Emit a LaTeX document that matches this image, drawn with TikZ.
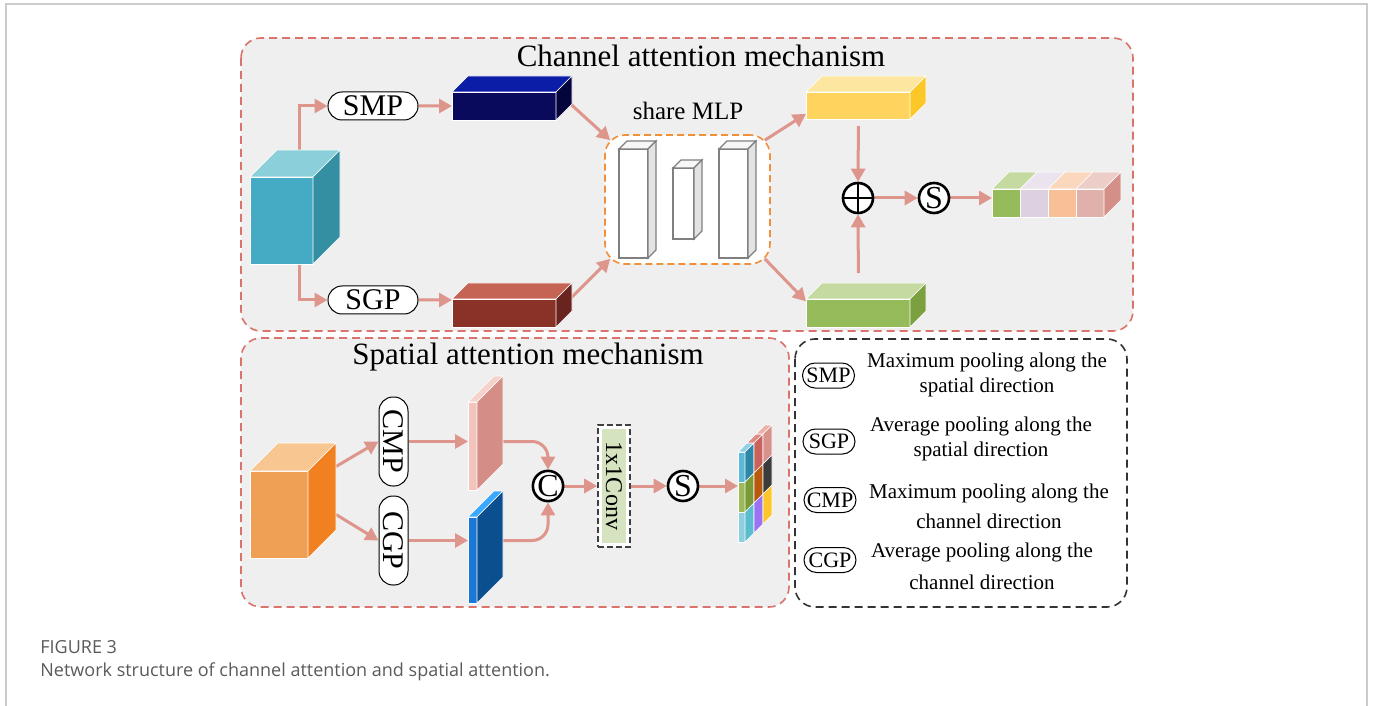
\documentclass[tikz,border=0pt]{standalone}
\usepackage{fontspec}
\setmainfont{Liberation Serif}
\newfontfamily\capfont{Open Sans}
\usetikzlibrary{arrows.meta,shapes.misc,positioning}

\definecolor{arrowred}{HTML}{DE958B}
\definecolor{panelred}{HTML}{D9736B}
\definecolor{panelgray}{HTML}{EFEFEF}
\definecolor{mlporange}{HTML}{F0903A}
\definecolor{framegray}{HTML}{CCCCCC}
\definecolor{capgray}{HTML}{5A5A5A}
\definecolor{convgreen}{HTML}{D5E3C0}
% box faces: front, top, side
\definecolor{cinF}{HTML}{45ABC4}\definecolor{cinT}{HTML}{8BCFDB}\definecolor{cinS}{HTML}{358FA3}
\definecolor{navyF}{HTML}{0A0A5C}\definecolor{navyT}{HTML}{0B1DA6}\definecolor{navyS}{HTML}{05053E}
\definecolor{brickF}{HTML}{8B3228}\definecolor{brickT}{HTML}{C56355}\definecolor{brickS}{HTML}{6A2420}
\definecolor{layerT}{HTML}{F7F7F7}\definecolor{layerS}{HTML}{E3E3E3}
\definecolor{yelF}{HTML}{FFD45E}\definecolor{yelT}{HTML}{FDE6A0}\definecolor{yelS}{HTML}{FCC828}
\definecolor{grnF}{HTML}{96BB5A}\definecolor{grnT}{HTML}{C4DAA0}\definecolor{grnS}{HTML}{7AA040}
\definecolor{lilF}{HTML}{DDD0E0}\definecolor{lilT}{HTML}{EBE3EE}
\definecolor{pchF}{HTML}{F8C096}\definecolor{pchT}{HTML}{FBD8BD}
\definecolor{rosF}{HTML}{E0B0AA}\definecolor{rosT}{HTML}{ECCDC8}\definecolor{rosS}{HTML}{D49088}
\definecolor{sinF}{HTML}{F0A055}\definecolor{sinT}{HTML}{F8C690}\definecolor{sinS}{HTML}{F08020}
\definecolor{pinkF}{HTML}{F3C4BC}\definecolor{pinkT}{HTML}{F6D2CC}\definecolor{pinkS}{HTML}{D58D87}
\definecolor{blueF}{HTML}{1A78D8}\definecolor{blueT}{HTML}{3AA8FF}\definecolor{blueS}{HTML}{0B4F8F}
% spatial map cells
\definecolor{mapA}{HTML}{5BB8D6}\definecolor{mapB}{HTML}{9CBB58}\definecolor{mapC}{HTML}{8CCFDF}
\definecolor{mapD}{HTML}{8FD0E6}\definecolor{mapE}{HTML}{E08A84}\definecolor{mapF}{HTML}{EFB0AA}
\definecolor{map00}{HTML}{2E87A6}\definecolor{map01}{HTML}{7A9A38}\definecolor{map02}{HTML}{5BBCCF}
\definecolor{map10}{HTML}{C9625B}\definecolor{map11}{HTML}{B9590E}\definecolor{map12}{HTML}{9B72F2}
\definecolor{map20}{HTML}{D8918B}\definecolor{map21}{HTML}{3C3C3C}\definecolor{map22}{HTML}{FDC62A}

\pgfdeclarelayer{bg}
\pgfdeclarelayer{back}
\pgfsetlayers{bg,back,main}

\tikzstyle{arrow} = [draw=arrowred, line width=1.5pt, -{Triangle[length=6.5pt,width=7pt]}]
\tikzstyle{panel} = [draw=panelred, fill=panelgray, dash pattern=on 4pt off 2.5pt,
    line width=0.8pt, rounded corners=10pt]
\tikzstyle{keybox} = [draw=black!80, fill=white, dash pattern=on 4pt off 2.5pt,
    line width=0.8pt, rounded corners=10pt]
\tikzstyle{mlpbox} = [
    rectangle, rounded corners=10pt, draw=mlporange, fill=white,
    dash pattern=on 3.5pt off 2pt, line width=0.8pt,
    minimum width=82.5pt, minimum height=64.5pt
]
\tikzstyle{pool} = [
    rounded rectangle, draw=black, line width=0.5pt, fill=white,
    inner sep=0pt, minimum width=45pt, minimum height=14pt,
    font=\fontsize{15}{15}\selectfont
]
\tikzstyle{vpool} = [
    rectangle, rounded corners=7pt, draw=black, line width=0.5pt, fill=white,
    inner sep=0pt, minimum width=14.5pt, minimum height=44.5pt,
    font=\fontsize{15}{15}\selectfont
]
\tikzstyle{keypool} = [
    rounded rectangle, draw=black, line width=0.5pt, fill=white,
    inner sep=0pt, minimum width=26pt, minimum height=12.5pt,
    font=\fontsize{11}{11}\selectfont
]
\tikzstyle{keytext} = [align=center, inner sep=0pt, font=\fontsize{10.5}{12.5}\selectfont]
\tikzstyle{op} = [
    circle, draw=black, line width=1.3pt, fill=white,
    minimum size=15pt, inner sep=0pt, font=\fontsize{16}{16}\selectfont
]
\tikzstyle{oplus} = [op, path picture={
    \draw[line width=1.1pt] (path picture bounding box.north) -- (path picture bounding box.south)
        (path picture bounding box.west) -- (path picture bounding box.east);}]
\tikzstyle{conv} = [
    rectangle, draw=black!75, fill=white, dash pattern=on 3pt off 1.5pt, line width=0.8pt,
    minimum width=16pt, minimum height=61pt, inner sep=0pt,
    font=\fontsize{12}{12}\selectfont,
    path picture={\fill[convgreen] ([shift={(1.8pt,-1.8pt)}]path picture bounding box.north west)
        rectangle ([shift={(-1.8pt,1.8pt)}]path picture bounding box.south east);}
]
\tikzstyle{title} = [inner sep=0pt, font=\fontsize{15.5}{15.5}\selectfont]
\tikzstyle{caption} = [anchor=base west, inner sep=0pt, text=capgray, font=\capfont\fontsize{9}{10}\selectfont]
\tikzstyle{face} = [draw=white, line width=0.3pt]

% box with front face at (x,y), size w x h, depth d: name, x, y, w, h, d, front, top, side
\newcommand{\cuboid}[9]{%
  \path[face, fill=#7] (#2,#3) rectangle ++(#4,#5);
  \path[face, fill=#8] (#2,#3) -- ++(#6,-#6) -- ++(#4,0) -- ++(-#6,#6) -- cycle;
  \path[face, fill=#9] (#2+#4,#3) -- ++(#6,-#6) -- ++(0,#5) -- ++(-#6,#6) -- cycle;
  \node[inner sep=0pt, minimum width=#4*0.5pt, minimum height=#5*0.5pt, anchor=north west] (#1) at (#2,#3) {};
  \coordinate (#1-back) at (#2+#4/2+#6,#3-#6);
  \coordinate (#1-side) at (#2+#4+#6/2,#3+#5/2-#6/2);
  \coordinate (#1-east) at (#2+#4+#6,#3+#5/2-#6);
}
% one cell on the side of the attention map
\newcommand{\sidecell}[3]{%
  \path[face, fill=#3] (745+9*#1,452+30*#2-9*#1) -- ++(9,-9) -- ++(0,30) -- ++(-9,9) -- cycle;
}

\begin{document}
\begin{tikzpicture}[x=0.5pt,y=-0.5pt]
    \useasboundingbox (0,0) rectangle (1373,706);
    \draw[framegray, line width=0.8pt] (6,706) -- (6,4) -- (1367,4) -- (1367,706);

    \begin{pgfonlayer}{bg}
        \draw[panel] (241,38) rectangle (1133,331);
        \draw[panel] (241,338) rectangle (789,607);
        \draw[keybox] (795,339) rectangle (1127,607);
    \end{pgfonlayer}

    % channel attention
    \node[title] (ctitle) at (701,56) {Channel attention mechanism};
    \cuboid{cin}{250}{177}{63}{87}{27}{cinF}{cinT}{cinS}
    \node[pool] (smp) at (373,106) {SMP};
    \node[pool] (sgp) at (373,300) {SGP};
    \cuboid{smpbar}{452}{92}{104}{28}{16}{navyF}{navyT}{navyS}
    \cuboid{sgpbar}{452}{299}{104}{28}{16}{brickF}{brickT}{brickS}

    \node[mlpbox] (mlp) at (687.5,199.5) {};
    \node[anchor=base, inner sep=0pt, font=\fontsize{12.5}{12.5}\selectfont] (mlplabel) at (688,120) {share MLP};
    \begin{scope}[face/.style={draw=black!50, line width=0.6pt}]
        \cuboid{mlp1}{619}{149}{29}{109}{8}{white}{layerT}{layerS}
        \cuboid{mlp2}{673}{168}{21}{71}{8}{white}{layerT}{layerS}
        \cuboid{mlp3}{719}{149}{29}{109}{8}{white}{layerT}{layerS}
    \end{scope}

    \cuboid{ybar}{806}{92}{104}{27}{16}{yelF}{yelT}{yelS}
    \cuboid{gbar}{806}{299}{104}{28}{16}{grnF}{grnT}{grnS}
    \node[oplus] (plus) at (858,198) {};
    \node[op] (sg1) at (934,198) {S};

    % channel weights
    \path[face, fill=grnF] (992,189) rectangle ++(28,28);
    \path[face, fill=lilF] (1020,189) rectangle ++(28,28);
    \path[face, fill=pchF] (1048,189) rectangle ++(28,28);
    \path[face, fill=rosF] (1076,189) rectangle ++(28,28);
    \path[face, fill=grnT] (992,189) -- ++(17,-17) -- ++(28,0) -- ++(-17,17) -- cycle;
    \path[face, fill=lilT] (1020,189) -- ++(17,-17) -- ++(28,0) -- ++(-17,17) -- cycle;
    \path[face, fill=pchT] (1048,189) -- ++(17,-17) -- ++(28,0) -- ++(-17,17) -- cycle;
    \path[face, fill=rosT] (1076,189) -- ++(17,-17) -- ++(28,0) -- ++(-17,17) -- cycle;
    \path[face, fill=rosS] (1104,189) -- ++(17,-17) -- ++(0,28) -- ++(-17,17) -- cycle;
    \node[inner sep=0pt, minimum width=56pt, minimum height=14pt, anchor=north west] (cout) at (992,189) {};

    % spatial attention
    \node[title] (stitle) at (528,357) {Spatial attention mechanism};
    \cuboid{sin}{250}{471}{58}{87}{28}{sinF}{sinT}{sinS}
    \node[vpool] (cmp) at (393.5,441.5) {\rotatebox{-90}{CMP}};
    \node[vpool] (cgp) at (393.5,540.5) {\rotatebox{-90}{CGP}};
    \cuboid{pplane}{468}{402}{9}{88}{26}{pinkF}{pinkT}{pinkS}
    \cuboid{bplane}{468}{517}{9}{86}{26}{blueF}{blueT}{blueS}
    \node[op] (cc) at (548,486) {C};
    \node[conv] (conv) at (614,486) {\rotatebox{-90}{1x1Conv}};
    \node[op] (sg2) at (683,486) {S};

    % spatial map
    \path[face, fill=mapA] (738,452) rectangle ++(7,30);
    \path[face, fill=mapB] (738,482) rectangle ++(7,30);
    \path[face, fill=mapC] (738,512) rectangle ++(7,30);
    \path[face, fill=mapD] (738,452) -- ++(9,-9) -- ++(7,0) -- ++(-9,9) -- cycle;
    \path[face, fill=mapE] (747,443) -- ++(9,-9) -- ++(7,0) -- ++(-9,9) -- cycle;
    \path[face, fill=mapF] (756,434) -- ++(9,-9) -- ++(7,0) -- ++(-9,9) -- cycle;
    \sidecell{0}{0}{map00}
    \sidecell{0}{1}{map01}
    \sidecell{0}{2}{map02}
    \sidecell{1}{0}{map10}
    \sidecell{1}{1}{map11}
    \sidecell{1}{2}{map12}
    \sidecell{2}{0}{map20}
    \sidecell{2}{1}{map21}
    \sidecell{2}{2}{map22}
    \node[inner sep=0pt, minimum width=3.5pt, minimum height=45pt, anchor=north west] (sout) at (738,452) {};

    % legend
    \node[keypool] (ksmp) at (828.5,375.5) {SMP};
    \node[keypool] (ksgp) at (829,441.5) {SGP};
    \node[keypool] (kcmp) at (830,500) {CMP};
    \node[keypool] (kcgp) at (830,560) {CGP};
    \node[keytext] (tsmp) at (987,375) {Maximum pooling along the\\spatial direction};
    \node[keytext] (tsgp) at (981,439) {Average pooling along the\\spatial direction};
    \node[keytext] (tcmp) at (989,506) {Maximum pooling along the\\[2.5pt]channel direction};
    \node[keytext] (tcgp) at (982,566) {Average pooling along the\\[3.5pt]channel direction};

    % caption
    \node[caption] (fig) at (40,653) {FIGURE 3};
    \node[caption] (cap) at (40,676) {Network structure of channel attention and spatial attention.};

    \begin{pgfonlayer}{back}
        \draw[arrow] ([xshift=9pt]cin.north) |- (smp);
        \draw[arrow] ([xshift=9pt]cin.south) |- (sgp);
        \draw[arrow] (smp) -- (smp -| smpbar.west);
        \draw[arrow] (sgp) -- (sgp -| sgpbar.west);
        \draw[arrow] (smpbar-side) -- ([shift={(6,6)}]mlp.north west);
        \draw[arrow] (sgpbar-side) -- ([shift={(6,-6)}]mlp.south west);
        \draw[arrow] ([shift={(-6,6)}]mlp.north east) -- ([yshift=-4pt]ybar.west);
        \draw[arrow] ([shift={(-6,-6)}]mlp.south east) -- ([yshift=6pt]gbar.west);
        \draw[arrow, shorten <=3pt] (ybar.south) -- (plus);
        \draw[arrow, shorten <=5pt] (gbar.north |- gbar-back) -- (plus);
        \draw[arrow] (plus) -- (sg1);
        \draw[arrow] (sg1) -- (sg1 -| cout.west);

        \draw[arrow] ([yshift=10pt]sin-east) -- (cmp.west);
        \draw[arrow] ([yshift=-14pt]sin-east) -- (cgp.west);
        \draw[arrow] (cmp.east) -- (cmp.east -| pplane.west);
        \draw[arrow] (cgp.east) -- (cgp.east -| bplane.west);
        \draw[arrow, rounded corners=8pt] (cmp.east -| pplane-east) -| (cc);
        \draw[arrow, rounded corners=8pt] (cgp.east -| bplane-east) -| (cc);
        \draw[arrow] (cc) -- (conv);
        \draw[arrow] (conv) -- (sg2);
        \draw[arrow] (sg2) -- (sg2 -| sout.west);
    \end{pgfonlayer}
\end{tikzpicture}
\end{document}
